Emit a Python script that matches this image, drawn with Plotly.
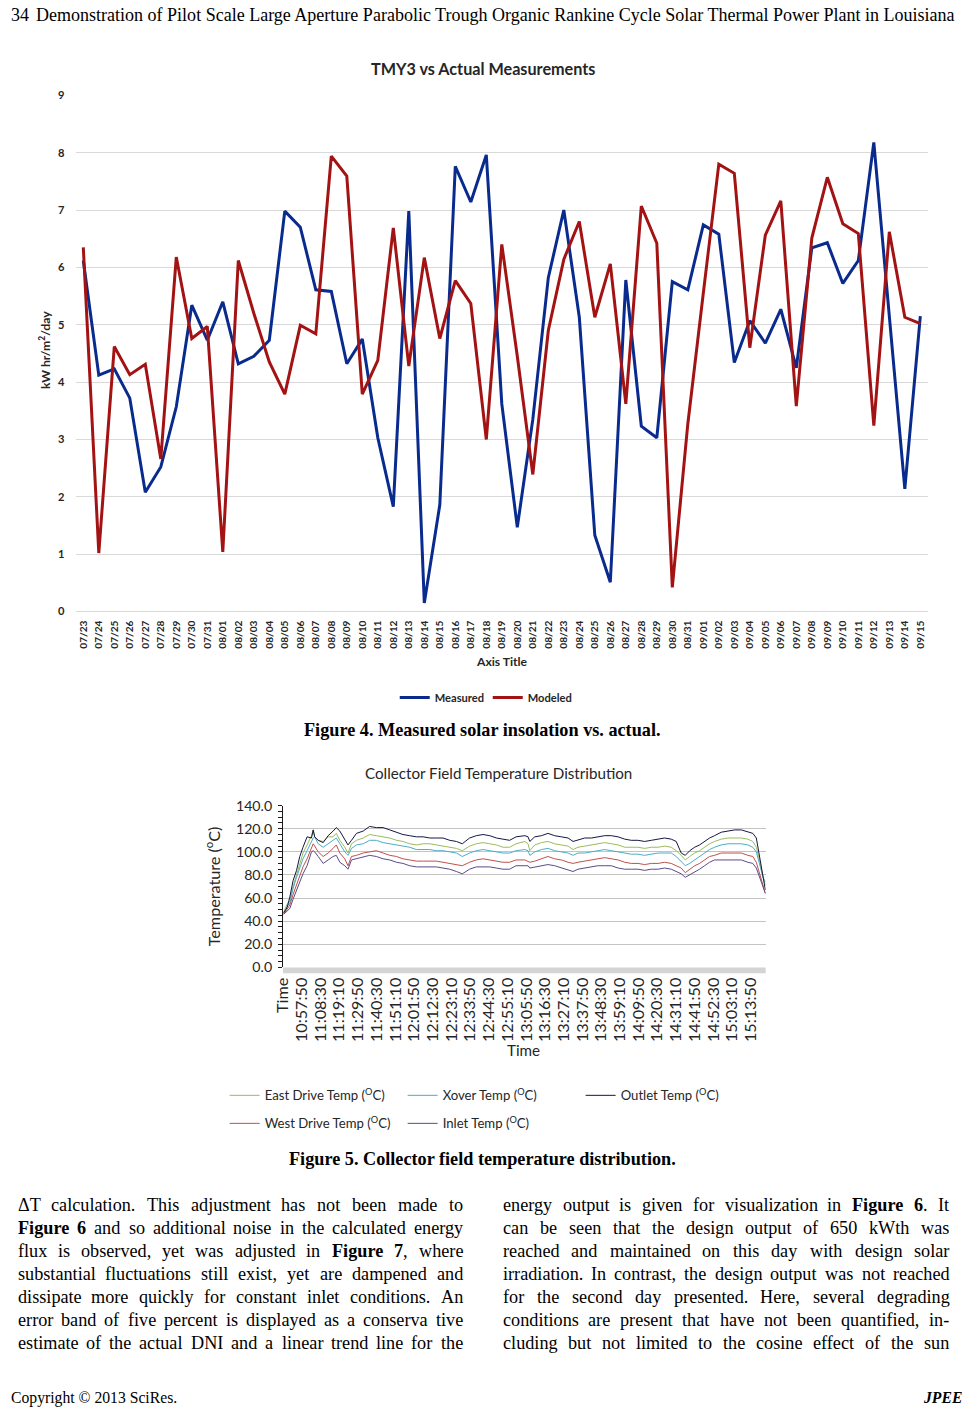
import plotly.graph_objects as go

W, H = 966, 1415
# The photographed page shows up slightly reduced and shifted inside the picture.
# Layout positions below are given in picture pixels and converted to page pixels.
OX, OY = 11.5, 8.75
SX, SY = 0.988, 0.9875
FS = 1 / SX  # size compensation

# ---------------- Figure 4 data ----------------
DATES = ["07/23", "07/24", "07/25", "07/26", "07/27", "07/28", "07/29", "07/30", "07/31",
         "08/01", "08/02", "08/03", "08/04", "08/05", "08/06", "08/07", "08/08", "08/09", "08/10",
         "08/11", "08/12", "08/13", "08/14", "08/15", "08/16", "08/17", "08/18", "08/19", "08/20",
         "08/21", "08/22", "08/23", "08/24", "08/25", "08/26", "08/27", "08/28", "08/29", "08/30",
         "08/31", "09/01", "09/02", "09/03", "09/04", "09/05", "09/06", "09/07", "09/08", "09/09",
         "09/10", "09/11", "09/12", "09/13", "09/14", "09/15"]
MEASURED = [6.12, 4.12, 4.23, 3.72, 2.08, 2.52, 3.57, 5.34, 4.73,
            5.40, 4.32, 4.45, 4.73, 6.98, 6.70, 5.61, 5.58, 4.32, 4.75,
            3.03, 1.83, 6.98, 0.15, 1.86, 7.76, 7.14, 7.96, 3.62, 1.47,
            3.35, 5.82, 7.00, 5.13, 1.33, 0.51, 5.78, 3.23, 3.03, 5.75,
            5.61, 6.74, 6.58, 4.34, 5.07, 4.68, 5.27, 4.25, 6.34, 6.43,
            5.72, 6.12, 8.18, 5.15, 2.14, 5.15]
MODELED = [6.35, 1.02, 4.62, 4.13, 4.31, 2.66, 6.18, 4.76, 4.97,
           1.04, 6.12, 5.20, 4.35, 3.79, 4.99, 4.84, 7.94, 7.59, 3.79,
           4.38, 6.69, 4.28, 6.17, 4.76, 5.77, 5.37, 3.00, 6.40, 4.45,
           2.39, 4.90, 6.14, 6.80, 5.13, 6.06, 3.62, 7.07, 6.42, 0.42,
           3.27, 5.55, 7.80, 7.64, 4.60, 6.56, 7.16, 3.58, 6.51, 7.57,
           6.76, 6.59, 3.24, 6.62, 5.13, 5.02]

# ---------------- Figure 5 data ----------------
TIMES = ["10:47:30", "10:49:30", "10:51:00", "10:52:50", "10:54:50", "10:56:40", "10:58:30", "11:00:50",
         "11:03:20", "11:04:20", "11:05:10", "11:07:10", "11:10:00", "11:12:50", "11:15:40", "11:17:30",
         "11:19:30", "11:22:20", "11:24:10", "11:26:10", "11:29:00", "11:32:50", "11:36:30", "11:40:20",
         "11:44:10", "11:48:00", "11:51:50", "11:55:30", "11:59:20", "12:03:10", "12:07:00", "12:10:50",
         "12:14:30", "12:18:20", "12:22:10", "12:26:00", "12:29:20", "12:33:30", "12:37:20", "12:41:10",
         "12:45:00", "12:48:50", "12:52:30", "12:56:20", "13:00:00", "13:05:00", "13:06:50", "13:07:50",
         "13:10:40", "13:14:30", "13:18:10", "13:22:00", "13:25:50", "13:29:40", "13:32:30", "13:35:20",
         "13:39:10", "13:43:00", "13:46:40", "13:50:30", "13:54:20", "13:58:10", "14:02:00", "14:05:40",
         "14:09:30", "14:13:20", "14:17:10", "14:21:00", "14:24:40", "14:28:30", "14:31:20", "14:34:10",
         "14:36:30", "14:39:00", "14:41:50", "14:44:40", "14:47:30", "14:50:20", "14:53:10", "14:57:00",
         "15:00:50", "15:04:40", "15:08:30", "15:12:10", "15:15:00", "15:17:00", "15:18:50", "15:20:50",
         "15:22:10"]
OUTLET = [47, 52, 61, 75, 84, 96, 104, 113, 112, 119, 113, 110, 108, 114, 118, 121,
          118, 110, 106, 110, 116, 118, 122, 121, 121, 119, 117, 115, 114, 113, 113, 112,
          112, 112, 110, 109, 107, 112, 114, 115, 114, 112, 111, 110, 113, 114, 113, 109,
          113, 114, 116, 114, 113, 112, 109, 110, 112, 112, 113, 114, 114, 113, 111, 110,
          110, 109, 110, 111, 112, 111, 109, 99, 97, 101, 104, 106, 109, 112, 114, 117,
          118, 119, 119, 117, 116, 112, 95, 76, 67]
EAST = [48, 55, 58, 70, 80, 90, 99, 106, 114, 119, 113, 110, 109, 113, 113, 116,
        110, 104, 99, 107, 110, 112, 115, 114, 113, 112, 110, 109, 107, 106, 107, 107,
        106, 105, 104, 103, 101, 105, 107, 108, 107, 106, 104, 104, 107, 109, 107, 101,
        106, 108, 109, 107, 106, 105, 102, 104, 105, 106, 107, 108, 107, 106, 104, 104,
        104, 103, 104, 104, 105, 104, 101, 97, 93, 96, 99, 101, 104, 107, 109, 111,
        112, 112, 112, 111, 109, 104, 93, 78, 71]
XOVER = [47, 53, 56, 68, 78, 86, 94, 101, 110, 112, 113, 107, 104, 107, 110, 112,
         107, 100, 97, 103, 106, 107, 110, 110, 108, 107, 106, 105, 104, 102, 102, 102,
         101, 101, 100, 99, 96, 99, 101, 102, 101, 100, 99, 99, 101, 102, 101, 97,
         100, 102, 103, 101, 100, 99, 97, 99, 99, 100, 101, 102, 101, 100, 99, 98,
         98, 97, 98, 99, 99, 99, 96, 92, 88, 90, 93, 96, 99, 102, 104, 106,
         107, 107, 107, 106, 104, 100, 90, 78, 74]
WEST = [46, 51, 54, 63, 71, 78, 87, 94, 104, 107, 105, 100, 96, 99, 103, 106,
        99, 94, 88, 96, 97, 99, 100, 101, 99, 97, 96, 94, 93, 92, 92, 92,
        92, 91, 90, 89, 88, 91, 93, 94, 93, 92, 91, 91, 93, 93, 92, 91,
        92, 94, 96, 94, 93, 91, 90, 91, 92, 93, 94, 95, 94, 93, 91, 90,
        90, 89, 90, 90, 91, 90, 88, 86, 82, 85, 88, 90, 93, 96, 97, 99,
        99, 99, 99, 97, 96, 91, 81, 70, 64]
INLET = [46, 49, 51, 59, 67, 74, 81, 88, 100, 101, 100, 96, 90, 93, 96, 97,
         91, 88, 85, 93, 94, 96, 97, 96, 94, 93, 91, 90, 88, 87, 87, 87,
         87, 86, 85, 83, 81, 85, 87, 87, 87, 86, 85, 85, 88, 88, 88, 86,
         87, 88, 89, 88, 86, 84, 83, 85, 86, 87, 88, 88, 88, 86, 85, 85,
         85, 84, 85, 85, 86, 85, 83, 81, 78, 80, 83, 85, 88, 91, 93, 93,
         93, 93, 93, 91, 90, 86, 78, 68, 64]
TIME_TICKS = ["Time", "10:57:50", "11:08:30", "11:19:10", "11:29:50", "11:40:30", "11:51:10",
              "12:01:50", "12:12:30", "12:23:10", "12:33:50", "12:44:30", "12:55:10", "13:05:50",
              "13:16:30", "13:27:10", "13:37:50", "13:48:30", "13:59:10", "14:09:50", "14:20:30",
              "14:31:10", "14:41:50", "14:52:30", "15:03:10", "15:13:50"]


def secs(t):
    h, m, s = (int(v) for v in t.split(":"))
    return h * 3600 + m * 60 + s


T_SEC = [secs(t) for t in TIMES]
step = secs(TIME_TICKS[2]) - secs(TIME_TICKS[1])
TICKVALS = [secs(TIME_TICKS[1]) - step] + [secs(t) for t in TIME_TICKS[1:]]


def px(x):
    return max(0.0, (x - OX) / SX) / W


def py(y):
    return 1 - ((y - OY) / SY) / H


def f(s):
    return round(s * FS, 2)


CHART_FONT = "Lato"
SERIF = "Liberation Serif"

fig = go.Figure()

fig.add_trace(go.Scatter(x=DATES, y=MEASURED, mode="lines", name="Measured",
                         line=dict(color="#0a2b8e", width=3), xaxis="x", yaxis="y",
                         legend="legend"))
fig.add_trace(go.Scatter(x=DATES, y=MODELED, mode="lines", name="Modeled",
                         line=dict(color="#a31313", width=3), xaxis="x", yaxis="y",
                         legend="legend"))

series5 = [
    ("East Drive Temp (<sup>O</sup>C)", EAST, "#9bbb59", "legend2"),
    ("Xover Temp (<sup>O</sup>C)", XOVER, "#4bacc6", "legend2"),
    ("Outlet Temp (<sup>O</sup>C)", OUTLET, "#141840", "legend2"),
    ("West Drive Temp (<sup>O</sup>C)", WEST, "#c0504d", "legend3"),
    ("Inlet Temp (<sup>O</sup>C)", INLET, "#5b4a8a", "legend3"),
]
for name, vals, col, lg in series5:
    fig.add_trace(go.Scatter(x=T_SEC, y=vals, mode="lines", name=name,
                             line=dict(color=col, width=1), xaxis="x2", yaxis="y2",
                             legend=lg))

layout = dict(
    width=W, height=H,
    margin=dict(l=0, r=0, t=0, b=0),
    paper_bgcolor="white", plot_bgcolor="white",
    font=dict(family=CHART_FONT, color="#262626"),
    xaxis=dict(domain=[px(76), px(928)], anchor="y", type="category",
               range=[-0.5, len(DATES) - 0.5], showgrid=False, showline=False,
               ticks="", tickangle=-90, ticklabelstandoff=6,
               tickfont=dict(size=f(10), family=CHART_FONT, weight="bold", color="#262626")),
    yaxis=dict(domain=[py(611), py(95)], anchor="x", range=[0, 9], dtick=1,
               showgrid=True, gridcolor="#d9d9d9", gridwidth=1,
               zeroline=True, zerolinecolor="#d9d9d9", zerolinewidth=1,
               showline=False, ticks="", ticklabelstandoff=10,
               tickfont=dict(size=f(11), family=CHART_FONT, weight="bold", color="#262626")),
    xaxis2=dict(domain=[px(283.3), px(765.7)], anchor="y2",
                range=[TICKVALS[0] - 5, T_SEC[-1] + 10],
                tickvals=TICKVALS, ticktext=TIME_TICKS, tickangle=-90,
                showgrid=False, showline=False, zeroline=False, ticks="",
                ticklabelstandoff=6,
                tickfont=dict(size=f(16), family=CHART_FONT, color="#262626")),
    yaxis2=dict(domain=[py(966.7), py(805)], anchor="x2", range=[0, 140], dtick=20,
                tickformat=".1f", showgrid=True, gridcolor="#c4c4c4", gridwidth=1,
                zeroline=False, showline=True, linecolor="#1a1a1a", linewidth=1,
                ticks="outside", ticklen=4, tickcolor="#1a1a1a",
                minor=dict(dtick=5, ticks="outside", ticklen=4, tickcolor="#1a1a1a", showgrid=False),
                ticklabelstandoff=3,
                tickfont=dict(size=f(14), family=CHART_FONT, color="#262626")),
    yaxis3=dict(overlaying="y2", anchor="x2", range=[0, 140], dtick=5,
                showgrid=False, zeroline=False, showline=False, showticklabels=False,
                ticks="inside", ticklen=4, tickcolor="#1a1a1a"),
    legend=dict(orientation="h", x=px(395), xanchor="left", y=py(697), yanchor="middle",
                entrywidth=48, bgcolor="rgba(0,0,0,0)", traceorder="normal",
                font=dict(size=f(11), family=CHART_FONT, weight="bold", color="#262626")),
    legend2=dict(orientation="h", x=px(225), xanchor="left", y=py(1095), yanchor="middle",
                 entrywidth=133, bgcolor="rgba(0,0,0,0)", traceorder="normal",
                 font=dict(size=f(13), family=CHART_FONT, color="#262626")),
    legend3=dict(orientation="h", x=px(225), xanchor="left", y=py(1123), yanchor="middle",
                 entrywidth=133, bgcolor="rgba(0,0,0,0)", traceorder="normal",
                 font=dict(size=f(13), family=CHART_FONT, color="#262626")),
    showlegend=True,
)
fig.update_layout(**layout)

fig.add_shape(type="rect", xref="paper", yref="paper",
              x0=px(283.3), x1=px(765.7), y0=py(972.5), y1=py(966.7),
              fillcolor="#d4d4d4", line=dict(width=0), layer="above")

ann = []


def add_text(text, x, y, size, family, xanchor="center", yanchor="middle", angle=0,
             weight="normal", style="normal", color="#000000"):
    ann.append(dict(text=text, x=px(x), y=py(y), xref="paper", yref="paper",
                    xanchor=xanchor, yanchor=yanchor, showarrow=False, textangle=angle,
                    borderpad=0, borderwidth=0,
                    font=dict(size=f(size), family=family, weight=weight, style=style,
                              color=color)))


add_text("TMY3 vs Actual Measurements", 483, 68, 16, CHART_FONT, weight="bold", color="#262626")
add_text("kW hr/m<sup>2</sup>/day", 46, 350, 12, CHART_FONT, angle=-90, weight="bold", color="#262626")
add_text("Axis Title", 502, 661, 12, CHART_FONT, weight="bold", color="#262626")
add_text("Collector Field Temperature Distribution", 499, 772, 15, CHART_FONT, color="#262626")
add_text("Temperature (<sup>o</sup>C)", 213, 886, 16, CHART_FONT, angle=-90, color="#262626")
add_text("Time", 524, 1049, 15, CHART_FONT, color="#262626")

# running head: as high as the photographed area allows
add_text("34", 3, 4.8, 17.8, SERIF, xanchor="left", yanchor="top")
add_text("Demonstration of Pilot Scale Large Aperture Parabolic Trough Organic Rankine Cycle "
         "Solar Thermal Power Plant in Louisiana", 36, 4.8, 17.8, SERIF, xanchor="left",
         yanchor="top")
add_text("<b>Figure 4. Measured solar insolation vs. actual.</b>", 483, 729, 18, SERIF)
add_text("<b>Figure 5. Collector field temperature distribution.</b>", 483, 1158, 18, SERIF)
add_text("Copyright © 2013 SciRes.", 4, 1397, 15.5, SERIF, xanchor="left")
add_text("JPEE", 962, 1397, 15.5, SERIF, xanchor="right", weight="bold", style="italic")

TW = {' ': 250, 'a': 444, 'b': 500, 'c': 444, 'd': 500, 'e': 444, 'f': 333, 'g': 500, 'h': 500,
      'i': 278, 'j': 278, 'k': 500, 'l': 278, 'm': 778, 'n': 500, 'o': 500, 'p': 500, 'q': 500,
      'r': 333, 's': 389, 't': 278, 'u': 500, 'v': 500, 'w': 722, 'x': 500, 'y': 500, 'z': 444,
      'A': 722, 'B': 667, 'C': 667, 'D': 722, 'E': 611, 'F': 556, 'G': 722, 'H': 722, 'I': 333,
      'J': 389, 'K': 722, 'L': 611, 'M': 889, 'N': 722, 'O': 722, 'P': 556, 'Q': 722, 'R': 667,
      'S': 556, 'T': 611, 'U': 722, 'V': 722, 'W': 944, 'X': 722, 'Y': 722, 'Z': 611,
      '.': 250, ',': 250, '-': 333, '(': 333, ')': 333, '\u0394': 612}
TWB = {'F': 611, 'i': 278, 'g': 500, 'u': 556, 'r': 444, 'e': 444, '.': 250, ',': 250}


def word_width(w, size):
    """width in picture pixels of a word set at `size` picture pixels"""
    bold = "<b>" in w
    plain = w.replace("<b>", "").replace("</b>", "")
    tot = 0
    for ch in plain:
        if ch.isdigit():
            tot += 500
        elif bold and ch in TWB:
            tot += TWB[ch]
        else:
            tot += TW.get(ch, 500)
    return tot * size / 1000.0


LEFT_COL = [
    "\u0394T calculation. This adjustment has not been made to",
    "<b>Figure</b> <b>6</b> and so additional noise in the calculated energy",
    "flux is observed, yet was adjusted in <b>Figure</b> <b>7</b>, where",
    "substantial fluctuations still exist, yet are dampened and",
    "dissipate more quickly for constant inlet conditions. An",
    "error band of five percent is displayed as a conserva tive",
    "estimate of the actual DNI and a linear trend line for the",
]
RIGHT_COL = [
    "energy output is given for visualization in <b>Figure</b> <b>6</b>. It",
    "can be seen that the design output of 650 kWth was",
    "reached and maintained on this day with design solar",
    "irradiation. In contrast, the design output was not reached",
    "for the second day presented. Here, several degrading",
    "conditions are present that have not been quantified, in-",
    "cluding but not limited to the cosine effect of the sun",
]
BODY_SIZE = 18
LINE_Y0 = 1204
LINE_DY = 23


def justify(lines, left, width):
    for i, line in enumerate(lines):
        words = line.split(" ")
        ws = [word_width(w, BODY_SIZE) for w in words]
        gap = (width - sum(ws)) / (len(words) - 1)
        x = left
        for w, wd in zip(words, ws):
            add_text(w, x, LINE_Y0 + i * LINE_DY, BODY_SIZE, SERIF, xanchor="left")
            x += wd + gap


justify(LEFT_COL, 18, 445)
justify(RIGHT_COL, 503, 446)

fig.update_layout(annotations=ann)
fig.write_html("out.html", config={"displayModeBar": False},
               post_script="document.body.style.margin='0px';"
                           "document.body.style.overflow='hidden';")
